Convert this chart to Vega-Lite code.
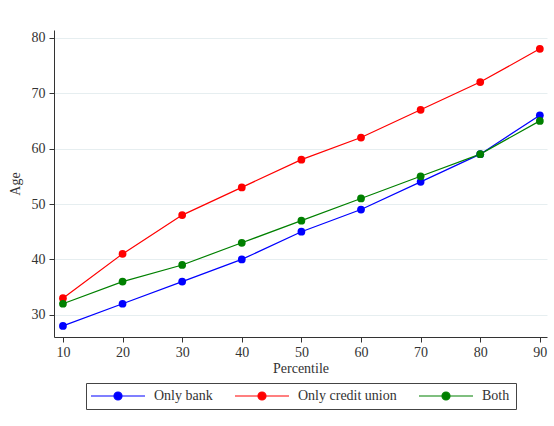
{
  "$schema": "https://vega.github.io/schema/vega-lite/v6.json",
  "width": 493,
  "height": 307,
  "autosize": "none",
  "padding": {"left": 54, "top": 30, "right": 7, "bottom": 89},
  "background": "white",
  "config": {
    "font": "Liberation Serif",
    "view": {"stroke": null},
    "axis": {
      "labelFont": "Liberation Serif",
      "titleFont": "Liberation Serif",
      "labelFontSize": 14,
      "titleFontSize": 14,
      "titleFontWeight": "normal",
      "labelColor": "#333",
      "titleColor": "#333",
      "domainColor": "#333",
      "tickColor": "#333",
      "tickSize": 5
    },
    "legend": {
      "labelFont": "Liberation Serif",
      "labelFontSize": 14,
      "labelColor": "#333"
    }
  },
  "data": {
    "values": [
      {"pct": 10, "group": "Only bank", "age": 28},
      {"pct": 20, "group": "Only bank", "age": 32},
      {"pct": 30, "group": "Only bank", "age": 36},
      {"pct": 40, "group": "Only bank", "age": 40},
      {"pct": 50, "group": "Only bank", "age": 45},
      {"pct": 60, "group": "Only bank", "age": 49},
      {"pct": 70, "group": "Only bank", "age": 54},
      {"pct": 80, "group": "Only bank", "age": 59},
      {"pct": 90, "group": "Only bank", "age": 66},
      {"pct": 10, "group": "Only credit union", "age": 33},
      {"pct": 20, "group": "Only credit union", "age": 41},
      {"pct": 30, "group": "Only credit union", "age": 48},
      {"pct": 40, "group": "Only credit union", "age": 53},
      {"pct": 50, "group": "Only credit union", "age": 58},
      {"pct": 60, "group": "Only credit union", "age": 62},
      {"pct": 70, "group": "Only credit union", "age": 67},
      {"pct": 80, "group": "Only credit union", "age": 72},
      {"pct": 90, "group": "Only credit union", "age": 78},
      {"pct": 10, "group": "Both", "age": 32},
      {"pct": 20, "group": "Both", "age": 36},
      {"pct": 30, "group": "Both", "age": 39},
      {"pct": 40, "group": "Both", "age": 43},
      {"pct": 50, "group": "Both", "age": 47},
      {"pct": 60, "group": "Both", "age": 51},
      {"pct": 70, "group": "Both", "age": 55},
      {"pct": 80, "group": "Both", "age": 59},
      {"pct": 90, "group": "Both", "age": 65}
    ]
  },
  "encoding": {
    "x": {
      "field": "pct",
      "type": "quantitative",
      "title": "Percentile",
      "scale": {"domain": [8.5, 91.2], "nice": false, "zero": false},
      "axis": {"values": [10, 20, 30, 40, 50, 60, 70, 80, 90], "grid": false, "labelPadding": 3, "titlePadding": 2, "labelFont": "Liberation Serif", "labelFontSize": 14}
    },
    "y": {
      "field": "age",
      "type": "quantitative",
      "title": "Age",
      "scale": {"domain": [26, 81.4], "nice": false, "zero": false},
      "axis": {"values": [30, 40, 50, 60, 70, 80], "grid": true, "gridColor": "#e6eef0", "gridWidth": 1, "labelPadding": 4, "titlePadding": 9, "labelFont": "Liberation Serif", "labelFontSize": 14}
    },
    "color": {
      "field": "group",
      "type": "nominal",
      "scale": {
        "domain": ["Only bank", "Only credit union", "Both"],
        "range": ["#0000ff", "#ff0000", "#008000"]
      },
      "legend": {
        "title": null,
        "orient": "none",
        "legendX": 32,
        "legendY": 353,
        "direction": "horizontal",
        "symbolType": "M-1.6,0L9.2,0M4.6,0A0.8,0.8 0 1,1 3.0,0A0.8,0.8 0 1,1 4.6,0Z",
        "symbolSize": 100,
        "symbolStrokeWidth": 1.2,
        "labelOffset": 48,
        "columnPadding": 19,
        "padding": 6,
        "strokeColor": "#444"
      }
    }
  },
  "layer": [
    {"mark": {"type": "line", "strokeWidth": 1.2}},
    {"mark": {"type": "circle", "size": 60, "opacity": 1}}
  ]
}
